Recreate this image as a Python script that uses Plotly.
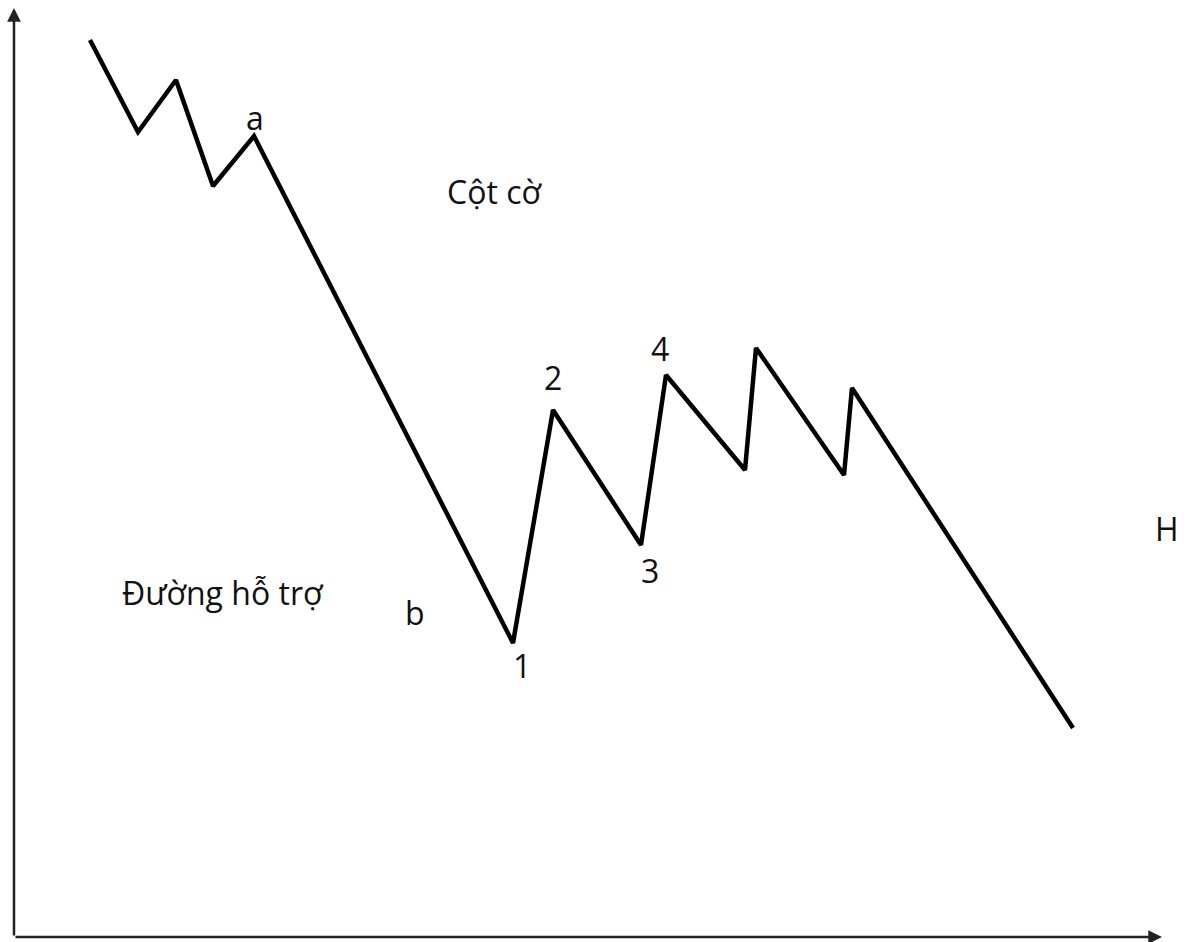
import plotly.graph_objects as go

# Price path (time on x, price on y; chart units span 0..1190 by 0..942)
t = [90, 138, 176, 213, 254, 513, 553, 641, 666, 745, 756, 844, 852, 1073]
price = [902, 810, 862, 756, 806, 299, 532, 397, 567, 472, 594, 467, 554, 214]

# Text labels: (text, x, y)
labels = [
    ("a", 255, 825),
    ("Cột cờ", 494, 751),
    ("2", 553, 565),
    ("4", 660, 594),
    ("3", 650, 372),
    ("H", 1167, 414),
    ("Đường hỗ trợ", 223, 350),
    ("b", 415, 330),
    ("1", 522, 277),
]

W, H = 1190, 942
FONT = "Open Sans"

fig = go.Figure()
fig.add_trace(go.Scatter(
    x=t, y=price, mode="lines",
    line=dict(color="black", width=4.5),
    hoverinfo="skip", showlegend=False,
))

for text, x, y in labels:
    fig.add_annotation(x=x, y=y, text=text, showarrow=False,
                       font=dict(family=FONT, size=32, color="#111"),
                       xanchor="center", yanchor="middle")

# Axes drawn as arrows from the origin
ox, oy = 14, 5
fig.add_annotation(x=ox, y=H - 8, ax=ox, ay=oy, xref="x", yref="y",
                   axref="x", ayref="y", showarrow=True, text="",
                   arrowhead=2, arrowsize=1.1, arrowwidth=2.5, arrowcolor="#222")
fig.add_annotation(x=1162, y=oy, ax=ox, ay=oy, xref="x", yref="y",
                   axref="x", ayref="y", showarrow=True, text="",
                   arrowhead=2, arrowsize=1.1, arrowwidth=2.5, arrowcolor="#222")

fig.update_layout(
    width=W, height=H,
    margin=dict(l=0, r=0, t=0, b=0),
    plot_bgcolor="white", paper_bgcolor="white",
    xaxis=dict(range=[0, W], visible=False, fixedrange=True),
    yaxis=dict(range=[0, H], visible=False, fixedrange=True),
)

fig.write_html("out.html")
